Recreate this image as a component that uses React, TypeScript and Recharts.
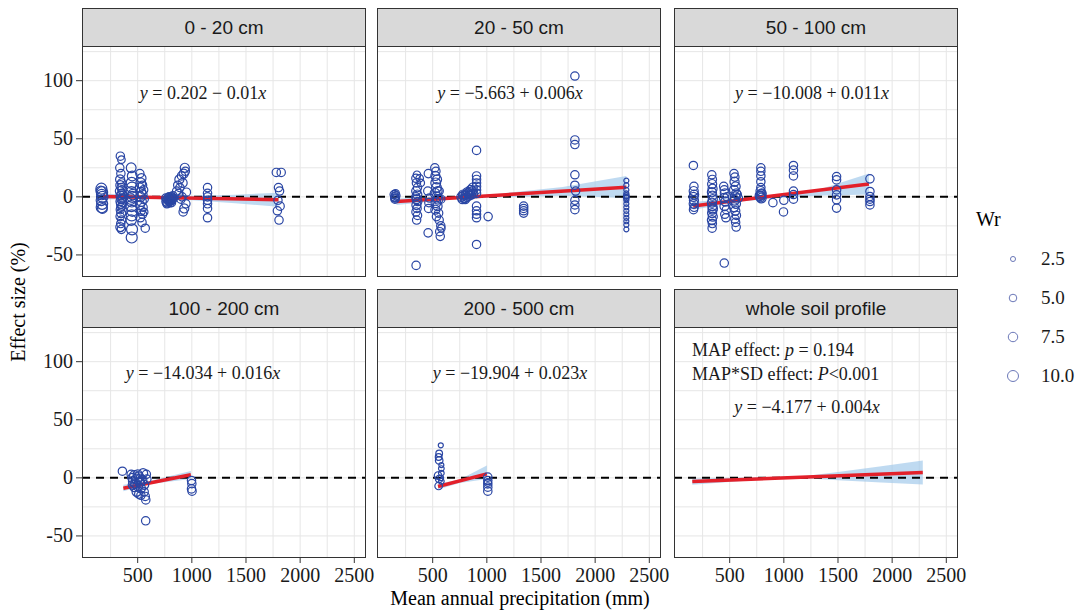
import { ComposedChart, Scatter, Line, Area, XAxis, YAxis, ZAxis, CartesianGrid, ReferenceLine } from "recharts";

// axis breaks
const xTicks = [500, 1000, 1500, 2000, 2500];
const xGrid = [250, 500, 750, 1000, 1250, 1500, 1750, 2000, 2250, 2500];
const yTicks = [-50, 0, 50, 100];
const yGrid = [-50, -25, 0, 25, 50, 75, 100, 125];
const wrLegend = [2.5, 5.0, 7.5, 10.0];

// points: [MAP, effect size, Wr]
const pts0_20 = [
  [165, 7, 10], [172, 4, 10], [168, 2, 9], [175, 0, 10], [165, -3, 9], [172, -6, 10], [168, -9, 10], [175, -10, 8], [160, 5, 8],
  [340, 35, 6], [350, 32, 5], [335, 25, 6], [345, 20, 6], [338, 15, 7], [352, 12, 6], [340, 10, 7], [348, 8, 6], [336, 5, 7],
  [355, 3, 6], [342, 1, 7], [350, -2, 7], [338, -4, 6], [346, -6, 7], [354, -8, 6], [340, -11, 6], [348, -14, 7], [338, -17, 6],
  [352, -20, 6], [344, -23, 6], [340, -26, 7], [350, -28, 6], [360, -1, 6], [365, 2, 5], [362, -5, 6], [345, -9, 6], [355, 6, 6],
  [440, 25, 8], [450, 18, 8], [445, 12, 10], [448, 8, 10], [442, 4, 10], [450, 0, 10], [446, -4, 10], [442, -8, 10], [450, -12, 10],
  [445, -16, 10], [440, -20, 9], [448, -28, 10], [445, -35, 10], [455, 2, 9], [438, -2, 9],
  [520, 20, 6], [535, 16, 7], [528, 12, 8], [545, 10, 6], [520, 8, 7], [555, 6, 6], [530, 4, 8], [545, 2, 7], [525, 0, 8],
  [560, -2, 6], [535, -4, 8], [520, -7, 7], [550, -9, 6], [530, -12, 7], [545, -15, 6], [560, -13, 5], [525, -18, 6], [570, -27, 6], [540, -22, 6],
  [760, -1, 6], [765, -4, 7], [770, -2, 6], [775, -5, 7], [780, -3, 6], [785, -1, 7], [790, -4, 6], [795, -2, 7], [800, -5, 6],
  [805, -1, 6], [810, -3, 7], [815, 0, 6], [820, -2, 6], [825, 1, 6], [830, -1, 6], [770, -6, 6], [790, 0, 6], [800, -3, 7], [812, -5, 6],
  [860, 5, 6], [870, 10, 6], [880, 3, 6], [885, 15, 7], [890, 8, 6], [900, -2, 6], [905, 18, 6], [915, 12, 7], [925, 20, 7],
  [935, 25, 7], [940, 22, 6], [945, -6, 6], [930, -10, 7], [920, -13, 6], [910, 0, 6], [950, 4, 6],
  [1145, 8, 6], [1145, 3, 6], [1145, 0, 6], [1145, -3, 6], [1145, -6, 6], [1145, -10, 6], [1145, -18, 6],
  [1780, 21, 6], [1825, 21, 6], [1800, 8, 6], [1810, 5, 6], [1795, -3, 6], [1815, -8, 6], [1790, -12, 6], [1805, -20, 6],
];
const pts20_50 = [
  [145, 2, 6], [150, 0, 6], [155, -1, 6], [160, 1, 6], [152, -2, 6], [158, 3, 5], [148, -1, 5],
  [345, 16, 6], [355, 19, 5], [350, 12, 6], [360, 8, 6], [348, 5, 7], [358, 2, 7], [345, 0, 6], [352, -2, 7], [362, -4, 6],
  [350, -7, 7], [356, -10, 6], [346, -13, 6], [360, -16, 6], [352, -20, 6], [380, 16, 5], [390, 12, 5], [347, -59, 6],
  [460, 20, 6], [455, 5, 6], [465, -5, 6], [462, -10, 6], [458, -31, 6], [470, -1, 6],
  [520, 25, 6], [530, 22, 6], [525, 18, 7], [540, 15, 7], [528, 12, 8], [535, 8, 8], [545, 5, 7], [522, 3, 8], [538, 0, 8],
  [550, -2, 8], [530, -5, 8], [545, -8, 7], [525, -11, 7], [555, -14, 6], [535, -17, 6], [560, -20, 6], [575, -25, 6],
  [565, -30, 6], [570, -34, 6], [580, -27, 5], [560, 5, 6], [575, -2, 6],
  [765, 0, 7], [775, -2, 7], [785, 1, 7], [795, -1, 7], [805, 2, 7], [815, 0, 7], [825, 3, 7], [835, 1, 7], [845, 4, 7],
  [855, 2, 7], [865, 5, 7], [875, 3, 7], [780, 2, 7], [800, -2, 7], [820, 4, 7], [850, 6, 7], [870, 8, 7],
  [905, 40, 6], [905, 18, 6], [905, 15, 6], [905, 12, 6], [905, 9, 6], [905, 6, 6], [905, 3, 6], [905, -8, 6], [905, -12, 6],
  [905, -15, 6], [905, -18, 6], [905, -41, 6], [1012, -17, 6],
  [1340, -8, 6], [1340, -10, 6], [1340, -12, 6], [1340, -14, 6],
  [1813, 104, 6], [1813, 49, 6], [1813, 45, 6], [1813, 19, 6], [1813, 10, 6], [1820, 5, 6], [1813, -3, 6], [1813, -7, 6], [1813, -11, 6],
  [2288, 14, 2.5], [2288, 10, 2.5], [2288, 6, 2.5], [2288, 3, 2.5], [2288, 0, 2.5], [2288, -3, 2.5], [2288, -6, 2.5], [2288, -9, 2.5],
  [2288, -12, 2.5], [2288, -15, 2.5], [2288, -18, 2.5], [2288, -21, 2.5], [2288, -24, 2.5], [2288, -28, 2.5], [2288, 1, 3], [2288, -1, 3],
];
const pts50_100 = [
  [165, 27, 6], [170, 9, 6], [168, 5, 7], [172, 2, 7], [166, 0, 7], [170, -3, 7], [168, -6, 7], [172, -9, 6], [166, -11, 6],
  [335, 19, 6], [340, 15, 6], [338, 11, 7], [342, 7, 7], [336, 4, 7], [340, 1, 7], [344, -2, 7], [336, -5, 7], [340, -8, 7],
  [342, -11, 7], [338, -14, 7], [344, -17, 7], [336, -20, 7], [340, -23, 6], [338, -27, 6], [345, -10, 7],
  [445, 9, 6], [450, 6, 6], [455, 3, 7], [448, -1, 7], [460, -4, 7], [452, -8, 7], [470, -11, 6], [455, -15, 6], [465, -18, 6],
  [450, -57, 6], [475, 0, 6],
  [540, 20, 6], [548, 17, 6], [545, 13, 7], [555, 9, 7], [540, 6, 7], [560, 3, 7], [550, 0, 8], [545, -3, 8], [558, -6, 7],
  [540, -9, 7], [552, -12, 7], [562, -16, 6], [548, -19, 6], [555, -22, 6], [560, -26, 6], [570, 2, 6], [580, -1, 6],
  [788, 25, 6], [788, 22, 6], [788, 18, 6], [788, 13, 6], [788, 8, 6], [785, 5, 7], [790, 2, 8], [785, 0, 8], [792, -1, 8],
  [780, 1, 8], [795, 3, 7],
  [899, -5, 6], [997, -13, 6], [1000, -3, 6], [1089, 27, 6], [1089, 23, 6], [1089, 18, 6], [1089, 5, 6], [1089, 2, 6], [1089, -2, 6],
  [1487, 17.5, 6], [1487, 14.6, 6], [1487, 6, 6], [1487, 1.7, 6], [1487, -2.6, 6], [1487, -9.7, 6],
  [1795, 15.5, 6], [1795, 4.6, 6], [1795, 0.3, 6], [1795, -4, 6], [1795, -7, 6], [1795, -2, 6],
];
const pts100_200 = [
  [359, 5.7, 6],
  [440, 3, 6], [450, 0, 7], [460, -3, 8], [470, 2, 8], [480, -5, 8], [490, -1, 8], [500, -7, 8], [510, 1, 8], [520, -4, 8],
  [530, -9, 7], [540, -2, 8], [550, 4, 7], [560, -6, 7], [470, -8, 7], [490, -12, 7], [510, -14, 6], [530, -15, 6], [560, -12, 6],
  [575, -19, 6], [570, -16, 6], [580, 3, 6], [585, -1, 6], [574, -37, 6], [455, -6, 7], [500, 3, 7], [525, -1, 8],
  [997, -2.3, 6], [1000, -5, 6], [997, -9.5, 6], [1002, -11.5, 6],
];
const pts200_500 = [
  [575, 28, 2.5], [560, 21, 4], [555, 18, 4], [560, 15, 5], [580, 8, 3], [580, 4, 3], [550, 2, 5], [575, 0, 3], [560, -1, 5],
  [580, -3, 3], [555, -7, 5], [580, 11, 2.5],
  [1009, 0.6, 6], [1009, -2.3, 6], [1009, -5.2, 6], [1009, -8, 6], [1009, -11.5, 6], [1009, -4, 5],
];
const ptsWhole = [];

// fitted lines (ends) and confidence bands
const fit0_20 = { x: [180, 1800], y: [0.3, -2.5] };
const band0_20 = { x: [180, 600, 1000, 1400, 1800], lo: [-2.2, -1.6, -3, -5.5, -8.5], hi: [2.8, 1, 1, 1.9, 3.5] };
const fit20_50 = { x: [166, 2288], y: [-4, 8.3] };
const band20_50 = { x: [166, 700, 1100, 1700, 2288], lo: [-7, -2, -0.5, 1, -1], hi: [-1.5, 0.5, 2.5, 8.5, 18] };
const fit50_100 = { x: [163, 1786], y: [-7.8, 11] };
const band50_100 = { x: [163, 600, 900, 1300, 1786], lo: [-11, -4, -1.5, 1, 2], hi: [-4.5, -1, 0.5, 5.5, 20] };
const fit100_200 = { x: [368, 991], y: [-8.9, 2.6] };
const band100_200 = { x: [368, 600, 991], lo: [-11.5, -5.5, -1], hi: [-6, -3, 6] };
const fit200_500 = { x: [549, 1000], y: [-7.5, 3.4] };
const band200_500 = { x: [549, 750, 1000], lo: [-10, -4.5, -1], hi: [-5, -1.5, 10.6] };
const fitWhole = { x: [155, 2283], y: [-3.2, 4.6] };
const bandWhole = { x: [155, 800, 1200, 1500, 1900, 2283], lo: [-6, -1.5, -0.3, -2, -4, -5.8], hi: [-0.5, 0.5, 1.5, 5, 10, 15] };

const SERIF = "Liberation Serif, Times New Roman, serif";
const SANS = "Liberation Sans, Arial, sans-serif";
const PT_COLOR = "#2a46a4";

const colX = [82, 377, 674];
const rowY = [8, 289];
const STRIP_H = 39;
const PLOT_W = 284;
const PLOT_H = 230;
const Y_AXIS_W = 50;
const X_AXIS_H = 40;

const zRange = [20, 95];
const legendR = (wr) => Math.sqrt((zRange[0] + ((wr - 2.5) / 7.5) * (zRange[1] - zRange[0])) / Math.PI);

const XTick = (props) => {
  const { x, y, payload } = props;
  return (
    <g>
      <line x1={x} x2={x} y1={y} y2={y + 5} stroke="#333" />
      <text x={x} y={y + 24} textAnchor="middle" style={{ fontFamily: SERIF, fontSize: 20 }} fill="#1a1a1a">
        {payload.value}
      </text>
    </g>
  );
};

const YTick = (props) => {
  const { y, payload } = props;
  const x0 = Y_AXIS_W;
  return (
    <g>
      <line x1={x0 - 6} x2={x0} y1={y} y2={y} stroke="#333" />
      <text x={x0 - 9} y={y + 6.5} textAnchor="end" style={{ fontFamily: SERIF, fontSize: 20 }} fill="#1a1a1a">
        {payload.value}
      </text>
    </g>
  );
};

const Panel = ({ title, pts, fit, band, col, row, children }) => {
  const left = colX[col];
  const top = rowY[row];
  const showY = col === 0;
  const showX = row === 1;
  const chartW = PLOT_W + (showY ? Y_AXIS_W : 0);
  const chartH = PLOT_H + (showX ? X_AXIS_H : 0);
  const points = pts.map(([x, y, wr]) => ({ x, y, wr }));
  const fitData = fit.x.map((x, i) => ({ x, fit: fit.y[i] }));
  const bandData = band.x.map((x, i) => ({ x, band: [band.lo[i], band.hi[i]] }));

  return (
    <>
      <div
        style={{
          position: "absolute", left, top, width: PLOT_W, height: STRIP_H,
          background: "#d9d9d9", border: "1px solid #333", boxSizing: "border-box",
          display: "flex", alignItems: "center", justifyContent: "center",
          fontFamily: SANS, fontSize: 19, color: "#1a1a1a",
        }}
      >
        {title}
      </div>
      <div style={{ position: "absolute", left: left - (showY ? Y_AXIS_W : 0), top: top + STRIP_H }}>
        <ComposedChart width={chartW} height={chartH} margin={{ top: 0, right: 0, bottom: 0, left: 0 }} style={{ overflow: "visible" }}>
          <CartesianGrid stroke="#e6e6e6" verticalValues={xGrid} horizontalValues={yGrid} />
          <XAxis
            dataKey="x" type="number" domain={[-14, 2608]} ticks={xTicks} allowDataOverflow
            hide={!showX} height={X_AXIS_H} axisLine={false} tickLine={false} tickSize={0} tickMargin={0}
            tick={<XTick />} interval={0}
          />
          <YAxis
            type="number" domain={[-69, 129]} ticks={yTicks} allowDataOverflow hide={!showY} width={Y_AXIS_W}
            axisLine={false} tickLine={false} tickSize={0} tickMargin={0} interval={0} tick={<YTick />}
          />
          <ZAxis dataKey="wr" type="number" domain={[2.5, 10]} range={zRange} />
          <Scatter data={points} dataKey="y" fill="none" stroke={PT_COLOR} strokeWidth={1.2} isAnimationActive={false} />
          <ReferenceLine y={0} stroke="#000" strokeWidth={2} strokeDasharray="8 6" />
          <Area data={bandData} dataKey="band" type="linear" fill="#9cc6ea" fillOpacity={0.65} stroke="none" isAnimationActive={false} />
          <Line data={fitData} dataKey="fit" type="linear" stroke="#e3202a" strokeWidth={3.5} dot={false} activeDot={false} isAnimationActive={false} />
        </ComposedChart>
      </div>
      <div
        style={{
          position: "absolute", left, top: top + STRIP_H - 1, width: PLOT_W, height: PLOT_H + 1,
          border: "1px solid #333", boxSizing: "border-box", pointerEvents: "none",
        }}
      />
      <div style={{ position: "absolute", left, top: top + STRIP_H, width: PLOT_W, height: PLOT_H, pointerEvents: "none", fontFamily: SERIF, fontSize: 18, color: "#1a1a1a" }}>
        {children}
      </div>
    </>
  );
};

const Note = ({ cx, left, cy, children }) => (
  <div
    style={{
      position: "absolute", top: cy, left: cx ?? left, whiteSpace: "nowrap", lineHeight: "20px",
      transform: cx != null ? "translate(-50%, -50%)" : "translate(0, -50%)",
    }}
  >
    {children}
  </div>
);

const Eq = ({ a, op, b }) => (
  <>
    <i>y</i> = {a} {op} {b}<i>x</i>
  </>
);

const App = () => (
  <div style={{ position: "absolute", left: 0, top: 0, width: 1086, height: 615, background: "#fff" }}>
    <style>{`.recharts-surface, .recharts-wrapper { overflow: visible !important; }`}</style>
    <Panel title="0 - 20 cm" pts={pts0_20} fit={fit0_20} band={band0_20} col={0} row={0}>
      <Note cx={121} cy={46}><Eq a="0.202" op="−" b="0.01" /></Note>
    </Panel>
    <Panel title="20 - 50 cm" pts={pts20_50} fit={fit20_50} band={band20_50} col={1} row={0}>
      <Note cx={133} cy={46}><Eq a="−5.663" op="+" b="0.006" /></Note>
    </Panel>
    <Panel title="50 - 100 cm" pts={pts50_100} fit={fit50_100} band={band50_100} col={2} row={0}>
      <Note cx={138} cy={46}><Eq a="−10.008" op="+" b="0.011" /></Note>
    </Panel>
    <Panel title="100 - 200 cm" pts={pts100_200} fit={fit100_200} band={band100_200} col={0} row={1}>
      <Note cx={121} cy={45}><Eq a="−14.034" op="+" b="0.016" /></Note>
    </Panel>
    <Panel title="200 - 500 cm" pts={pts200_500} fit={fit200_500} band={band200_500} col={1} row={1}>
      <Note cx={133} cy={45}><Eq a="−19.904" op="+" b="0.023" /></Note>
    </Panel>
    <Panel title="whole soil profile" pts={ptsWhole} fit={fitWhole} band={bandWhole} col={2} row={1}>
      <Note left={18} cy={22}>MAP effect: <i>p</i> = 0.194</Note>
      <Note left={18} cy={46}>MAP*SD effect: <i>P</i>&lt;0.001</Note>
      <Note cx={133} cy={79}><Eq a="−4.177" op="+" b="0.004" /></Note>
    </Panel>

    <div
      style={{
        position: "absolute", left: 18, top: 302, transform: "translate(-50%, -50%) rotate(-90deg)",
        fontFamily: SERIF, fontSize: 20, lineHeight: "20px", color: "#000", whiteSpace: "nowrap",
      }}
    >
      Effect size (%)
    </div>
    <div
      style={{
        position: "absolute", left: 520, top: 598, transform: "translate(-50%, -50%)",
        fontFamily: SERIF, fontSize: 20, lineHeight: "20px", color: "#000", whiteSpace: "nowrap",
      }}
    >
      Mean annual precipitation (mm)
    </div>

    <div style={{ position: "absolute", left: 976, top: 208, fontFamily: SERIF, fontSize: 20, color: "#000" }}>Wr</div>
    {wrLegend.map((wr, i) => (
      <div key={wr} style={{ position: "absolute", left: 998, top: 259 + i * 39 - 14, height: 28, display: "flex", alignItems: "center" }}>
        <svg width={30} height={28}>
          <circle cx={15} cy={14} r={legendR(wr)} fill="none" stroke="#6b78b8" strokeWidth={1} />
        </svg>
        <span style={{ marginLeft: 13, fontFamily: SERIF, fontSize: 19, color: "#1a1a1a" }}>{wr.toFixed(1)}</span>
      </div>
    ))}
  </div>
);

export default App;
